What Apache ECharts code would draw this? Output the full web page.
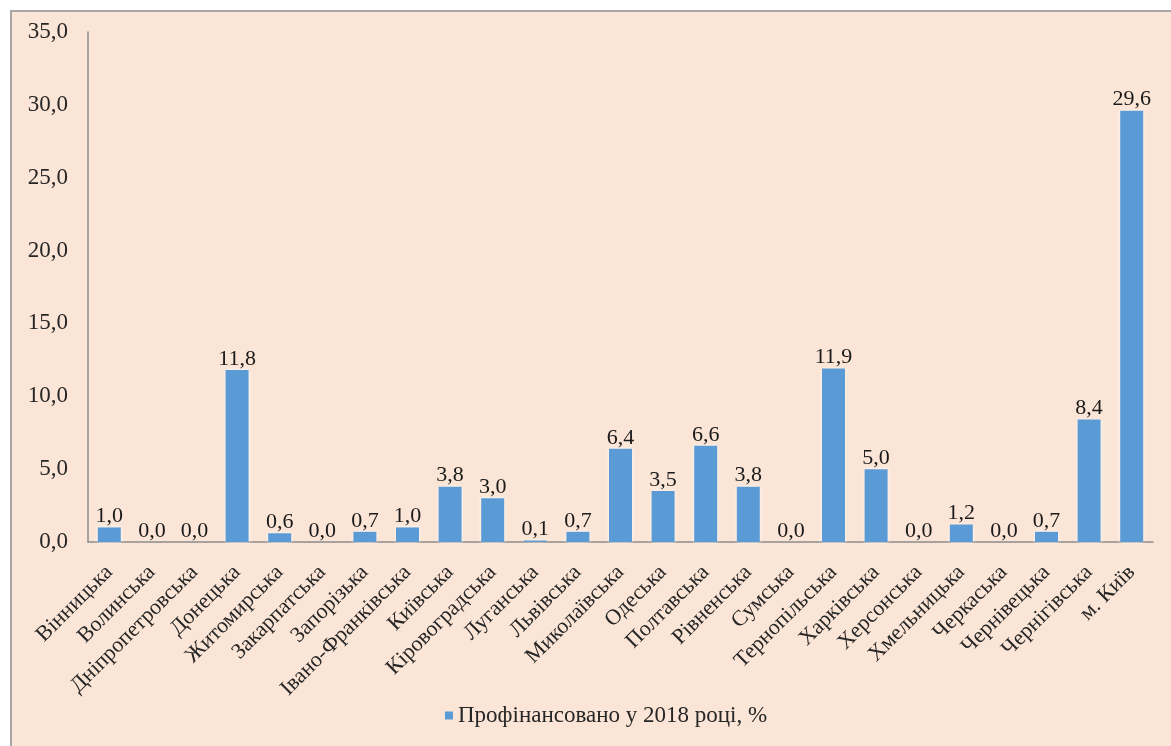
<!DOCTYPE html>
<html>
<head>
<meta charset="utf-8">
<script src="https://cdn.jsdelivr.net/npm/echarts@6/dist/echarts.min.js"></script>
<style>
  html, body { margin: 0; padding: 0; background: #ffffff; }
  #frame {
    position: absolute; left: 10px; top: 10px; width: 1171px; height: 746px;
    background: #FBE5D6; border-top: 2px solid #A6A6A6; border-left: 2px solid #A6A6A6;
  }
  #chart { position: absolute; left: 0; top: 0; width: 1171px; height: 746px; }
</style>
</head>
<body>
<div id="frame"></div>
<div id="chart"></div>
<script>
// Regions of Ukraine and the share financed in 2018, %
const regions = [
  'Вінницька', 'Волинська', 'Дніпропетровська', 'Донецька', 'Житомирська',
  'Закарпатська', 'Запорізька', 'Івано-Франківська', 'Київська', 'Кіровоградська',
  'Луганська', 'Львівська', 'Миколаївська', 'Одеська', 'Полтавська',
  'Рівненська', 'Сумська', 'Тернопільська', 'Харківська', 'Херсонська',
  'Хмельницька', 'Черкаська', 'Чернівецька', 'Чернігівська', 'м. Київ'
];
const financed = [
  1.0, 0.0, 0.0, 11.8, 0.6,
  0.0, 0.7, 1.0, 3.8, 3.0,
  0.1, 0.7, 6.4, 3.5, 6.6,
  3.8, 0.0, 11.9, 5.0, 0.0,
  1.2, 0.0, 0.7, 8.4, 29.6
];
const seriesName = 'Профінансовано у 2018 році, %';
const yTicks = { min: 0, max: 35, interval: 5 };

const serif = '"Liberation Serif", "Times New Roman", serif';
const comma = v => Number(v).toFixed(1).replace('.', ',');

const chart = echarts.init(document.getElementById('chart'), null, { renderer: 'canvas' });
chart.setOption({
  backgroundColor: 'transparent',
  animation: false,
  textStyle: { fontFamily: serif },
  grid: { left: 88, top: 32, right: 18, bottom: 204, containLabel: false },
  legend: {
    data: [seriesName],
    bottom: 14,
    left: 440,
    icon: 'rect',
    itemWidth: 8,
    itemHeight: 8,
    itemGap: 6,
    textStyle: { fontFamily: serif, fontSize: 23, color: '#262626' }
  },
  xAxis: {
    type: 'category',
    data: regions,
    axisLine: { show: true, lineStyle: { color: '#8C8C8C', width: 1.5 } },
    axisTick: { show: false },
    axisLabel: {
      interval: 0,
      rotate: 45,
      margin: 27,
      fontFamily: serif,
      fontSize: 22,
      color: '#262626'
    }
  },
  yAxis: {
    type: 'value',
    min: yTicks.min,
    max: yTicks.max,
    interval: yTicks.interval,
    splitLine: { show: false },
    axisTick: { show: false },
    axisLine: { show: true, lineStyle: { color: '#8C8C8C', width: 1.5 } },
    axisLabel: {
      margin: 20,
      fontFamily: serif,
      fontSize: 23,
      color: '#262626',
      formatter: comma
    }
  },
  series: [{
    name: seriesName,
    type: 'bar',
    data: financed,
    barCategoryGap: '46%',
    itemStyle: {
      color: '#5B9BD5',
      shadowColor: 'rgba(255,255,255,0.9)',
      shadowBlur: 4
    },
    label: {
      show: true,
      position: 'top',
      distance: 0,
      fontFamily: serif,
      fontSize: 22,
      color: '#1A1A1A',
      formatter: p => comma(p.value)
    }
  }]
});
</script>
</body>
</html>
